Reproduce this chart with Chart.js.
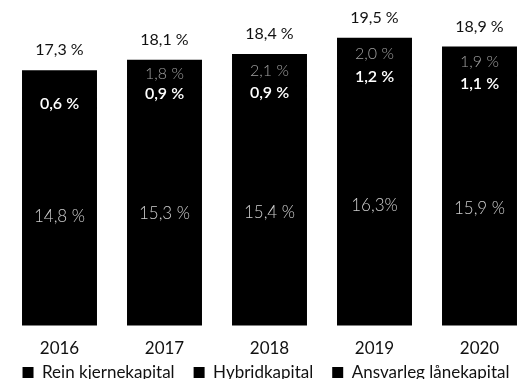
<!DOCTYPE html>
<html>
<head>
<meta charset="utf-8">
<script src="https://cdn.jsdelivr.net/npm/chart.js"></script>
<style>
  html, body { margin: 0; padding: 0; background: #fff; overflow: hidden; }
  #wrap { position: relative; width: 532px; height: 418px; }
</style>
</head>
<body>
<div id="wrap"><canvas id="chart"></canvas></div>
<script>
// Data
const years = ['2016', '2017', '2018', '2019', '2020'];
const reinKjernekapital = [14.8, 15.3, 15.4, 16.3, 15.9];
const hybridkapital = [0.6, 0.9, 0.9, 1.2, 1.1];
const ansvarlegLanekapital = [1.9, 1.8, 2.1, 2.0, 1.9];

// Labels as printed
const reinLabels = ['14,8 %', '15,3 %', '15,4 %', '16,3%', '15,9 %'];
const hybridLabels = ['0,6 %', '0,9 %', '0,9 %', '1,2 %', '1,1 %'];
const ansvarlegLabels = ['', '1,8 %', '2,1 %', '2,0 %', '1,9 %'];
const totalLabels = ['17,3 %', '18,1 %', '18,4 %', '19,5 %', '18,9 %'];

const FONT = 'Lato';

// Draw the value labels in and above the bars
const barLabels = {
    id: 'barLabels',
    afterDatasetsDraw(chart) {
        const ctx = chart.ctx;
        const styles = [
            { labels: reinLabels, color: '#cfcfcf', font: '300 17px ' + FONT },
            { labels: hybridLabels, color: '#ffffff', font: '600 16px ' + FONT },
            { labels: ansvarlegLabels, color: '#a0a0a0', font: '300 16px ' + FONT }
        ];
        ctx.save();
        ctx.textAlign = 'center';
        ctx.textBaseline = 'middle';
        styles.forEach((s, i) => {
            const meta = chart.getDatasetMeta(i);
            meta.data.forEach((bar, j) => {
                ctx.fillStyle = s.color;
                ctx.font = s.font;
                ctx.fillText(s.labels[j], bar.x, (bar.y + bar.base) / 2);
            });
        });
        // totals above the top segment
        const top = chart.getDatasetMeta(2);
        ctx.fillStyle = '#111';
        ctx.font = '400 16px ' + FONT;
        top.data.forEach((bar, j) => {
            ctx.fillText(totalLabels[j], bar.x, bar.y - 21);
        });
        ctx.restore();
    }
};

// pull the legend up closer to the year labels
const legendUp = {
    id: 'legendUp',
    afterLayout(chart) {
        chart.legend.top -= 27;
        chart.legend.bottom -= 27;
    }
};

const common = {
    backgroundColor: '#000',
    borderWidth: 0,
    inflateAmount: 1,
    barPercentage: 0.695,
    categoryPercentage: 1
};

new Chart(document.getElementById('chart'), {
    type: 'bar',
    data: {
        labels: years,
        datasets: [
            Object.assign({ label: 'Rein kjernekapital', data: reinKjernekapital }, common),
            Object.assign({ label: 'Hybridkapital', data: hybridkapital }, common),
            Object.assign({ label: 'Ansvarleg lånekapital', data: ansvarlegLanekapital }, common)
        ]
    },
    options: {
        responsive: true,
        maintainAspectRatio: false,
        animation: false,
        layout: { padding: { left: 0, right: 0, top: 2, bottom: 0 } },
        scales: {
            x: {
                stacked: true,
                grid: { display: false, drawTicks: false, tickLength: 0 },
                border: { display: false },
                ticks: { color: '#111', font: { family: FONT, size: 17 }, padding: 13 }
            },
            y: {
                stacked: true,
                min: 0,
                max: 22,
                grid: { display: false, drawTicks: false },
                border: { display: false },
                ticks: { display: false },
                afterFit(axis) { axis.width = 7; }
            }
        },
        plugins: {
            legend: {
                position: 'bottom',
                labels: {
                    color: '#111',
                    boxWidth: 11,
                    boxHeight: 11,
                    padding: 19,
                    font: { family: FONT, size: 17 }
                }
            },
            tooltip: { enabled: false }
        }
    },
    plugins: [barLabels, legendUp]
});
</script>
</body>
</html>
